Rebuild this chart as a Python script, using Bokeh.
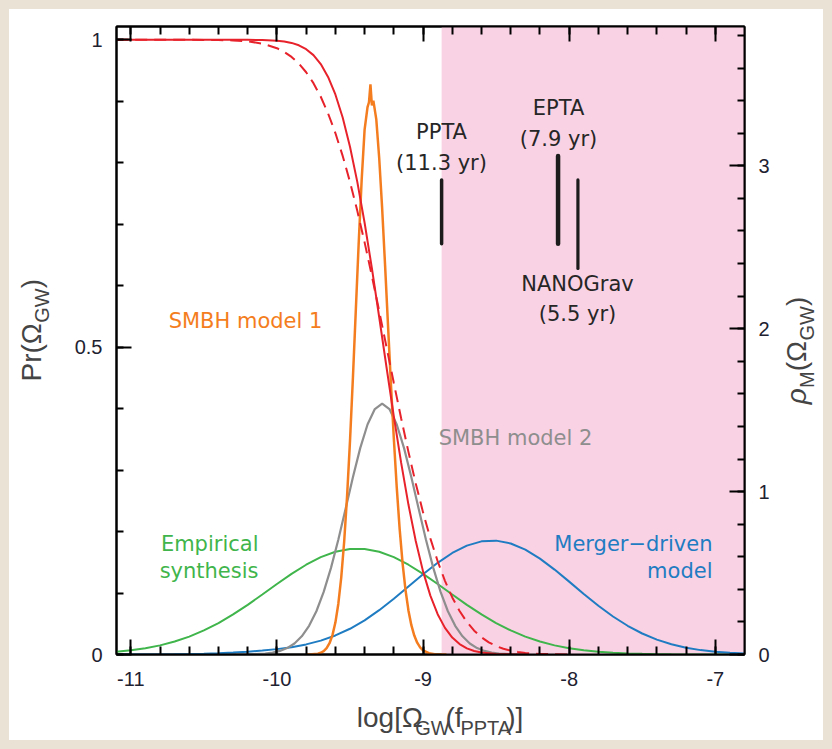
import math
from bokeh.plotting import figure
from bokeh.models import Range1d, LinearAxis, FixedTicker, BoxAnnotation, Label, ColumnDataSource
from bokeh.layouts import column, row
from bokeh.embed import file_html
from bokeh.resources import INLINE

# ---------------- data ----------------
x_ticks = [-11, -10, -9, -8, -7]
x_tick_labels = ["-11", "-10", "-9", "-8", "-7"]
x_minor = [-11.2 + 0.2 * i for i in range(24)]
pr_ticks = [0, 0.5, 1]
pr_tick_labels = ["0", "0.5", "1"]
pr_minor = [0.1 * i for i in range(11)]
rho_ticks = [0, 1, 2, 3]
rho_tick_labels = ["0", "1", "2", "3"]
rho_minor = [0.2 * i for i in range(20)]

# cumulative probability Pr(Omega_GW), left axis
red_x = [-11.1, -10.5, -10.2, -10.1, -10.0, -9.95, -9.9, -9.85, -9.8, -9.75, -9.7, -9.65,
         -9.6, -9.55, -9.5, -9.45, -9.4, -9.35, -9.3, -9.25, -9.2, -9.15, -9.1, -9.05,
         -9.0, -8.95, -8.9, -8.85, -8.8, -8.75, -8.7, -8.65, -8.6, -8.5, -8.4, -8.3]
red_solid = [1.0, 1.0, 0.9999, 0.9997, 0.9986, 0.9973, 0.9949, 0.9910, 0.9847, 0.9750, 0.9604, 0.9396,
             0.9110, 0.8735, 0.8261, 0.7688, 0.7023, 0.6282, 0.5486, 0.4673, 0.3874, 0.3121, 0.2439, 0.1846,
             0.1352, 0.0958, 0.0655, 0.0433, 0.0275, 0.0169, 0.0100, 0.0057, 0.0031, 0.0008, 0.0002, 0.0]

dash_x = [-11.1, -10.6, -10.4, -10.3, -10.2, -10.1, -10.0, -9.95, -9.9, -9.85, -9.8, -9.75,
          -9.7, -9.65, -9.6, -9.55, -9.5, -9.45, -9.4, -9.35, -9.3, -9.25, -9.2, -9.15,
          -9.1, -9.05, -9.0, -8.95, -8.9, -8.85, -8.8, -8.75, -8.7, -8.65, -8.6, -8.55,
          -8.5, -8.45, -8.4, -8.35, -8.3, -8.2, -8.1, -8.0]
red_dashed = [1.0, 1.0, 0.9996, 0.9990, 0.9974, 0.9938, 0.9863, 0.9803, 0.9721, 0.9612, 0.9472, 0.9294,
              0.9073, 0.8802, 0.8483, 0.8111, 0.7688, 0.7217, 0.6704, 0.6156, 0.5584, 0.5000, 0.4416, 0.3844,
              0.3296, 0.2783, 0.2312, 0.1889, 0.1517, 0.1198, 0.0928, 0.0707, 0.0529, 0.0388, 0.0280, 0.0198,
              0.0137, 0.0093, 0.0062, 0.0041, 0.0026, 0.0010, 0.0004, 0.0001]

# model densities rho_M(Omega_GW), right axis
orange_x = [-9.80, -9.76, -9.72, -9.70, -9.68, -9.66, -9.64, -9.62, -9.60, -9.58, -9.56, -9.54,
            -9.52, -9.50, -9.48, -9.46, -9.44, -9.42, -9.40, -9.38, -9.37, -9.36, -9.35, -9.34,
            -9.32, -9.30, -9.28, -9.26, -9.24, -9.22, -9.20, -9.18, -9.16, -9.14, -9.12, -9.10,
            -9.08, -9.06, -9.04, -9.02, -9.00, -8.96, -8.92, -8.88, -8.84]
orange_rho = [0.0002, 0.0012, 0.0053, 0.0108, 0.0209, 0.0388, 0.0692, 0.1188, 0.1959, 0.3103, 0.4723, 0.6907,
              0.9703, 1.3099, 1.6989, 2.1168, 2.5342, 2.9152, 3.2216, 3.36, 3.39, 3.50, 3.37, 3.40,
              3.2852, 3.0461, 2.7400, 2.3914, 2.0249, 1.6637, 1.3259, 1.0254, 0.7692, 0.5598, 0.3954, 0.2708,
              0.1801, 0.1162, 0.0726, 0.0441, 0.0260, 0.0082, 0.0023, 0.0006, 0.0001]

gray_x = [-10.28, -10.18, -10.08, -10.03, -9.98, -9.93, -9.88, -9.83, -9.78, -9.73, -9.68, -9.63,
          -9.58, -9.53, -9.48, -9.43, -9.38, -9.33, -9.28, -9.23, -9.18, -9.13, -9.08, -9.03,
          -8.98, -8.93, -8.88, -8.83, -8.78, -8.73, -8.68, -8.63, -8.58, -8.53, -8.48, -8.38, -8.28]
gray_rho = [0.0003, 0.0014, 0.0060, 0.0117, 0.0219, 0.0393, 0.0676, 0.1115, 0.1759, 0.2655, 0.3841, 0.5318,
            0.7050, 0.8952, 1.0883, 1.2668, 1.4120, 1.5069, 1.54, 1.5069, 1.4120, 1.2668, 1.0883, 0.8952,
            0.7050, 0.5318, 0.3841, 0.2655, 0.1759, 0.1115, 0.0676, 0.0393, 0.0219, 0.0117, 0.0060, 0.0014, 0.0003]

wide_x = [-11.1, -11.0, -10.9, -10.8, -10.7, -10.6, -10.5, -10.4, -10.3, -10.2, -10.1, -10.0,
          -9.9, -9.8, -9.7, -9.6, -9.5, -9.4, -9.3, -9.2, -9.1, -9.0, -8.9, -8.8,
          -8.7, -8.6, -8.5, -8.4, -8.3, -8.2, -8.1, -8.0, -7.9, -7.8, -7.7, -7.6,
          -7.5, -7.4, -7.3, -7.2, -7.1, -7.0, -6.9, -6.8]
green_rho = [0.017, 0.026, 0.039, 0.056, 0.080, 0.110, 0.148, 0.193, 0.246, 0.305, 0.368, 0.433,
             0.495, 0.551, 0.598, 0.631, 0.648, 0.648, 0.631, 0.598, 0.551, 0.495, 0.433, 0.368,
             0.305, 0.246, 0.193, 0.148, 0.110, 0.080, 0.056, 0.039, 0.026, 0.017, 0.011, 0.0065,
             0.0039, 0.0023, 0.0013, 0.0007, 0.0004, 0.0002, 0.0001, 0.0]
blue_rho = [0.0, 0.0, 0.0001, 0.0004, 0.0015, 0.003, 0.005, 0.008, 0.012, 0.017, 0.024, 0.033,
            0.045, 0.062, 0.085, 0.117, 0.158, 0.2094, 0.2720, 0.3422, 0.4170, 0.4922, 0.5627, 0.6232,
            0.6685, 0.6945, 0.6990, 0.6814, 0.6434, 0.5884, 0.5213, 0.4473, 0.3718, 0.2993, 0.2334, 0.1763,
            0.1289, 0.0914, 0.0627, 0.0417, 0.0269, 0.0168, 0.0101, 0.0059]

# PTA upper limits (left-axis units for the marker bars)
limit_names = ["PPTA", "EPTA", "NANOGrav"]
limit_spans = ["(11.3 yr)", "(7.9 yr)", "(5.5 yr)"]
limit_x = [-8.873, -8.076, -7.94]
limit_top = [0.772, 0.811, 0.772]
limit_bottom = [0.668, 0.668, 0.628]
excluded_from = -8.873

# ---------------- geometry (page pixels) ----------------
PAD = 9
X0, X1 = -11.098, -6.80
PR_TOP = 1.0216
RHO_TOP = 3.855
FL, FR, FT, FB = 116, 744, 26, 654          # frame edges on the page
LW = 55                                      # left title strip width
RW = 43                                      # right title strip width
MW = 832 - 2 * PAD - LW - RW                 # main figure width
MX = PAD + LW                                # main figure left on page
MH = 700 - PAD                               # main figure height
BH = 749 - PAD - 700                         # bottom title strip height

p = figure(width=MW, height=MH, x_range=Range1d(X0, X1), y_range=Range1d(0, PR_TOP),
           x_axis_location=None, y_axis_location=None,
           output_backend="svg", toolbar_location=None,
           min_border_left=FL - MX, min_border_right=(MX + MW) - FR,
           min_border_top=FT - PAD, min_border_bottom=(PAD + MH) - FB,
           background_fill_color="white", border_fill_color="white")
p.title = None
p.extra_y_ranges = {"rho": Range1d(0, RHO_TOP)}
p.outline_line_color = "black"
p.outline_line_width = 2
p.grid.visible = False


def style_axis(ax):
    ax.axis_line_color = "black"
    ax.axis_line_width = 2
    ax.major_tick_line_color = "black"
    ax.major_tick_line_width = 2
    ax.minor_tick_line_color = "black"
    ax.minor_tick_line_width = 2
    ax.major_tick_in = 15
    ax.major_tick_out = 0
    ax.minor_tick_in = 8
    ax.minor_tick_out = 0
    ax.major_label_text_font = "Liberation Sans"
    ax.major_label_text_font_size = "20px"
    ax.major_label_text_color = "#1e2230"


bottom = LinearAxis(ticker=FixedTicker(ticks=x_ticks, minor_ticks=x_minor),
                    major_label_overrides=dict(zip(x_ticks, x_tick_labels)))
style_axis(bottom)
bottom.major_label_standoff = 17
p.add_layout(bottom, "below")

top = LinearAxis(ticker=FixedTicker(ticks=x_ticks, minor_ticks=x_minor),
                 major_label_overrides={t: "" for t in x_ticks})
style_axis(top)
top.major_label_text_font_size = "0px"
top.major_label_standoff = 0
p.add_layout(top, "above")

left = LinearAxis(ticker=FixedTicker(ticks=pr_ticks, minor_ticks=pr_minor),
                  major_label_overrides=dict(zip(pr_ticks, pr_tick_labels)))
style_axis(left)
left.minor_tick_in = 7
left.major_label_standoff = 14
p.add_layout(left, "left")

right = LinearAxis(y_range_name="rho", ticker=FixedTicker(ticks=rho_ticks, minor_ticks=rho_minor),
                   major_label_overrides=dict(zip(rho_ticks, rho_tick_labels)))
style_axis(right)
right.minor_tick_in = 7
right.major_label_standoff = 14
p.add_layout(right, "right")

# excluded region
p.add_layout(BoxAnnotation(left=excluded_from, fill_color="#F9D2E4", fill_alpha=1.0,
                           line_color=None, level="underlay"))

GREEN = "#3FB54B"
BLUE = "#1F7CC2"
ORANGE = "#F47D20"
GRAY = "#8E8E8E"
RED = "#E8222B"

p.line(wide_x, green_rho, y_range_name="rho", line_color=GREEN, line_width=2)
p.line(wide_x, blue_rho, y_range_name="rho", line_color=BLUE, line_width=2)
p.line(gray_x, gray_rho, y_range_name="rho", line_color=GRAY, line_width=2.2)
p.line(orange_x, orange_rho, y_range_name="rho", line_color=ORANGE, line_width=2.5)
p.line(red_x, red_solid, line_color=RED, line_width=2)
p.line(dash_x, red_dashed, line_color=RED, line_width=2, line_dash="12 7")

bars = ColumnDataSource(dict(x=limit_x, y0=limit_bottom, y1=limit_top, w=[3.5, 4.5, 3.2]))
p.segment(x0="x", y0="y0", x1="x", y1="y1", source=bars, line_color="#1c1c1c", line_width="w",
          line_cap="round")


def X(px):
    return X0 + (px - FL) / (FR - FL) * (X1 - X0)


def Y(py):
    return (FB - py) / (FB - FT) * PR_TOP


def lab(px, py, text, color, size="21px", font="DejaVu Sans", align="left", baseline="middle"):
    p.add_layout(Label(x=X(px), y=Y(py), text=text, text_color=color, text_font=font,
                       text_font_size=size, text_align=align, text_baseline=baseline))


# curve labels
lab(245, 320, "SMBH model 1", ORANGE, align="center")
lab(515, 437, "SMBH model 2", GRAY, align="center")
lab(258, 543, "Empirical", GREEN, align="right")
lab(258, 570, "synthesis", GREEN, align="right")
lab(712, 543, "Merger\u2212driven", BLUE, align="right")
lab(712, 570, "model", BLUE, align="right")

# PTA labels
TXT = "#262626"
lab(441, 131, limit_names[0], TXT, align="center")
lab(441, 162, limit_spans[0], TXT, align="center")
lab(558, 107, limit_names[1], TXT, align="center")
lab(558, 138, limit_spans[1], TXT, align="center")
lab(577, 283, limit_names[2], TXT, align="center")
lab(577, 313, limit_spans[2], TXT, align="center")


# ---------------- axis titles in their own strips ----------------
def strip(w, h):
    f = figure(width=w, height=h, x_range=Range1d(0, w), y_range=Range1d(0, h),
               x_axis_location=None, y_axis_location=None, output_backend="svg",
               toolbar_location=None, min_border=0,
               background_fill_color="white", border_fill_color="white")
    f.title = None
    f.outline_line_color = None
    f.grid.visible = False
    return f


AX = "#444444"
BIG, SMALL = "28px", "20px"
F = "Liberation Sans"
R90 = math.pi / 2


def piece(fig, left0, top0, h, px, py, text, size, angle=0.0, style="normal"):
    # (px, py): page position of the text's vertical middle at its start
    fig.add_layout(Label(x=px - left0, y=h - (py - top0), text=text, text_color=AX, text_font=F,
                         text_font_size=size, text_align="left", text_baseline="middle",
                         angle=angle, text_font_style=style))


# x title: log[Ω_GW(f_PPTA)]   (main middle line 717, subscripts 727)
bfig = strip(MW, BH)
for px, py, t, s in [(338, 717, "log[\u03a9", BIG), (404.6, 727, "GW", SMALL), (439, 717, "(f", BIG),
                     (456.1, 727, "PPTA", SMALL), (508.3, 717, ")]", BIG)]:
    piece(bfig, MX, 700, BH, px, py, t, s)

# left title: Pr(Ω_GW)
lfig = strip(LW, MH + BH)
for px, py, t, s in [(31, 381, "Pr(\u03a9", BIG), (41, 322.2, "GW", SMALL), (31, 287.8, ")", BIG)]:
    piece(lfig, PAD, PAD, MH + BH, px, py, t, s, angle=R90)

# right title: ρ_M(Ω_GW)
rfig = strip(RW, MH + BH)
for px, py, t, s, st in [(796, 403.7, "\u03c1", BIG, "italic"), (806, 387.5, "M", SMALL, "normal"),
                         (796, 370.8, "(\u03a9", BIG, "normal"), (806, 340.0, "GW", SMALL, "normal"),
                         (796, 305.6, ")", BIG, "normal")]:
    piece(rfig, MX + MW, PAD, MH + BH, px, py, t, s, angle=R90, style=st)

inner = row(lfig, column(p, bfig), rfig, styles={"background-color": "white"})
root = column(inner, styles={"background-color": "#EAE3D5", "padding": f"{PAD}px"})

open("out.html", "w").write(file_html(root, INLINE))
